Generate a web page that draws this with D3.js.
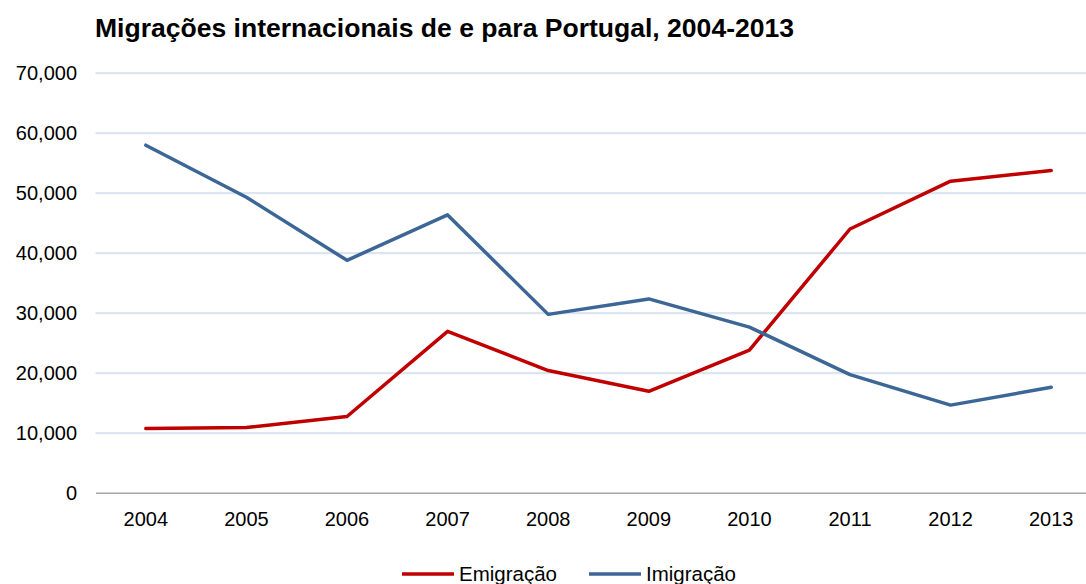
<!DOCTYPE html>
<html>
<head>
<meta charset="utf-8">
<script src="https://cdn.jsdelivr.net/npm/d3@7"></script>
<style>
    body { margin: 0; background: #fff; }
    svg { display: block; font-family: "Liberation Sans", Arial, sans-serif; }
</style>
</head>
<body>
<svg id="svg-line-chart"></svg>
<script>
// chart data
var years = ["2004", "2005", "2006", "2007", "2008", "2009", "2010", "2011", "2012", "2013"];
var emigracao = [10700, 10850, 12700, 26900, 20360, 16900, 23760, 43950, 51920, 53700];
var imigracao = [57920, 49240, 38730, 46300, 29720, 32300, 27600, 19670, 14600, 17560];
var yTicks = [0, 10000, 20000, 30000, 40000, 50000, 60000, 70000];
var title = "Migrações internacionais de e para Portugal, 2004-2013";

var seriesList = [
    { name: "Emigração", values: emigracao, color: "#C00000" },
    { name: "Imigração", values: imigracao, color: "#3C6696" }
];

const width = 1086, height = 584;
const marginLeft = 95.5, plotRight = 1101.5, marginTop = 72.7, plotBottom = 492.7;

const svg = d3.select("#svg-line-chart")
    .attr("width", width)
    .attr("height", height)
    .attr("viewBox", [0, 0, width, height]);

const xScale = d3.scaleBand().domain(years).range([marginLeft, plotRight]);
const yScale = d3.scaleLinear().domain([0, 70000]).range([plotBottom, marginTop]);

// title
svg.append("text")
    .attr("x", 95)
    .attr("y", 37)
    .attr("font-size", 25)
    .attr("font-weight", "bold")
    .attr("fill", "#000")
    .attr("textLength", 699)
    .attr("lengthAdjust", "spacingAndGlyphs")
    .text(title);

// y axis with gridlines
const yAxis = d3.axisLeft(yScale)
    .tickValues(yTicks)
    .tickFormat(d3.format(","))
    .tickSize(0)
    .tickPadding(0);

svg.append("g")
    .attr("transform", `translate(${marginLeft},0)`)
    .call(yAxis)
    .call(g => g.select(".domain").remove())
    .call(g => g.selectAll(".tick text")
        .attr("x", 77 - marginLeft)
        .attr("dy", "0.35em")
        .attr("font-size", 20)
        .attr("font-family", "Liberation Sans, Arial, sans-serif")
        .attr("fill", "#000"))
    .call(g => g.selectAll(".tick").filter(d => d !== 0).append("line")
        .attr("x1", 0)
        .attr("x2", plotRight - marginLeft)
        .attr("stroke", "#DCE6F2")
        .attr("stroke-width", 2.2));

// x axis
const xAxis = d3.axisBottom(xScale).tickSize(0).tickPadding(0);

svg.append("g")
    .attr("transform", `translate(0,${plotBottom})`)
    .call(xAxis)
    .call(g => g.select(".domain")
        .attr("stroke", "#A6A6A6")
        .attr("stroke-width", 1.5))
    .call(g => g.selectAll(".tick text")
        .attr("y", 33)
        .attr("dy", null)
        .attr("font-size", 20)
        .attr("font-family", "Liberation Sans, Arial, sans-serif")
        .attr("fill", "#000"));

// lines
const line = d3.line()
    .x((d, i) => xScale(years[i]) + xScale.bandwidth() / 2)
    .y(d => yScale(d));

svg.selectAll(".series")
    .data(seriesList)
    .join("path")
    .attr("class", "series")
    .attr("fill", "none")
    .attr("stroke", d => d.color)
    .attr("stroke-width", 3.5)
    .attr("stroke-linejoin", "round")
    .attr("stroke-linecap", "round")
    .attr("d", d => line(d.values));

// legend
const legendX = [402, 589];
const legend = svg.append("g");
seriesList.forEach((s, i) => {
    legend.append("line")
        .attr("x1", legendX[i])
        .attr("x2", legendX[i] + 52)
        .attr("y1", 574)
        .attr("y2", 574)
        .attr("stroke", s.color)
        .attr("stroke-width", 3.5);
    legend.append("text")
        .attr("x", legendX[i] + 57)
        .attr("y", 581)
        .attr("font-size", 20.5)
        .attr("fill", "#000")
        .text(s.name);
});
</script>
</body>
</html>
